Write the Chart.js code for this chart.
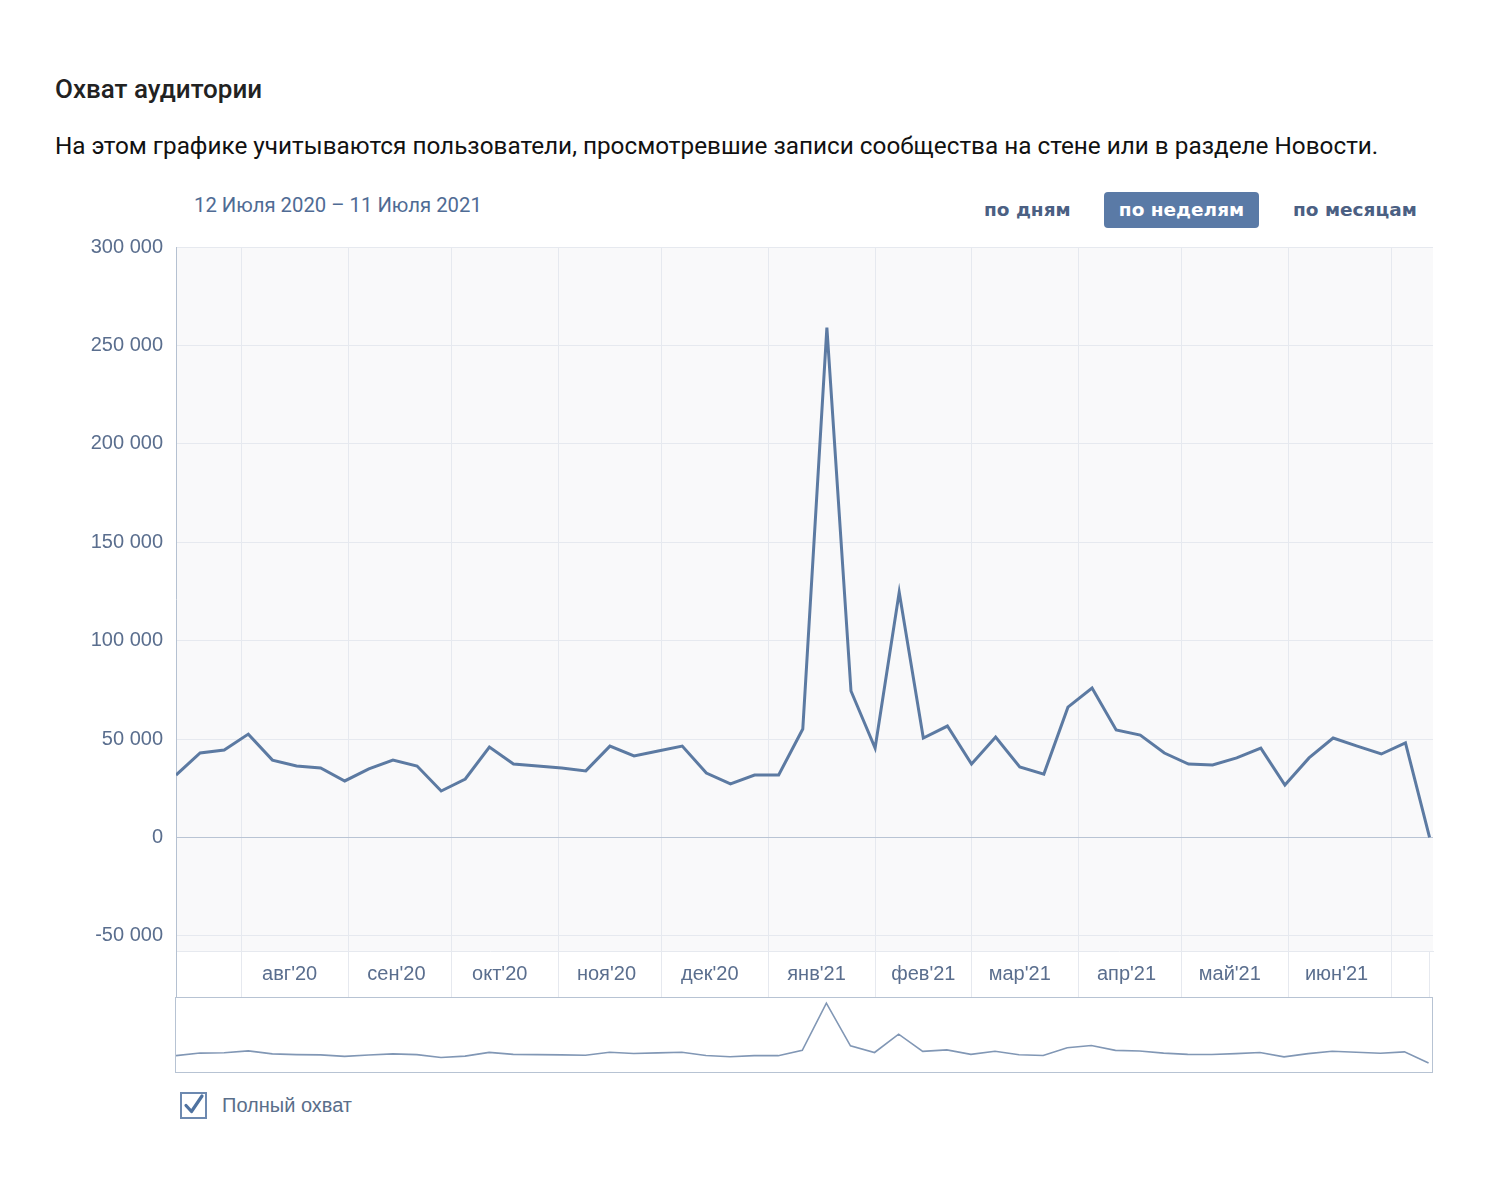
<!DOCTYPE html>
<html><head><meta charset="utf-8">
<script src="https://cdn.jsdelivr.net/npm/chart.js@4"></script>
<style>
body{margin:0;background:#fff;width:1492px;height:1193px;position:relative;overflow:hidden;font-family:Roboto,sans-serif;}
.abs{position:absolute;white-space:nowrap;}
#title{left:55px;top:73px;font-size:26px;font-weight:500;color:#222;line-height:32px;}
#sub{left:55px;top:130px;font-size:24.3px;color:#111;line-height:32px;}
#range{left:194px;top:192px;font-size:20.3px;color:#4f6b94;line-height:26px;}
.btn{font-family:"DejaVu Sans",sans-serif;font-weight:bold;font-size:18.5px;color:#4b6083;line-height:36px;top:192px;}
#b1{left:984px;}
#b2{left:1104px;width:155px;height:36px;background:#5a7aa6;color:#fff;border-radius:4px;text-align:center;}
#b3{left:1293px;}
#mainWrap{left:0;top:222px;width:1492px;height:778px;}
#navWrap{left:175px;top:997px;width:1256px;height:74px;border:1px solid #b7c3d3;background:#fff;}
#chk{left:179px;top:1091px;}
#legTxt{left:222px;top:1092px;font-family:"Liberation Sans",sans-serif;font-size:20px;color:#5a6e8a;line-height:26px;}
</style>
</head>
<body>
<div class="abs" id="title">Охват аудитории</div>
<div class="abs" id="sub">На этом графике учитываются пользователи, просмотревшие записи сообщества на стене или в разделе Новости.</div>
<div class="abs" id="range">12 Июля 2020 – 11 Июля 2021</div>
<div class="abs btn" id="b1">по дням</div>
<div class="abs btn" id="b2">по неделям</div>
<div class="abs btn" id="b3">по месяцам</div>
<div class="abs" id="mainWrap"><canvas id="main" width="1492" height="778"></canvas></div>
<div class="abs" id="navWrap"><canvas id="nav" width="1256" height="74"></canvas></div>
<svg class="abs" id="chk" width="30" height="30" viewBox="0 0 30 30">
  <rect x="2" y="2" width="25" height="25" fill="#fff" stroke="#6d89b0" stroke-width="2"/>
  <path d="M7 14.5 L12.5 20.5 L23 5" fill="none" stroke="#4f72a0" stroke-width="3.2" stroke-linejoin="round" stroke-linecap="round"/>
</svg>
<div class="abs" id="legTxt">Полный охват</div>
<script>
// ---- data ----
const firstWeek = [2020, 6, 13]; // year, month(0-based), day of first weekly point
const reach = [31700, 42900, 44400, 52500, 39300, 36300, 35300, 28700, 34800, 39300,
  36300, 23600, 29700, 45900, 37300, 36300, 35300, 33800, 46400, 41400,
  43900, 46400, 32700, 27200, 31700, 31700, 55100, 259000, 74400, 45400,
  124600, 50500, 56600, 37300, 51000, 35800, 32200, 66200, 75900, 54600,
  52000, 42900, 37300, 36800, 40400, 45400, 26600, 40400, 50500, 46400,
  42400, 48000, 0];
const monthLabels = ["авг'20","сен'20","окт'20","ноя'20","дек'20","янв'21","фев'21","мар'21","апр'21","май'21","июн'21"];
const firstLabelMonth = [2020, 7]; // Aug 2020
const extraBoundaryMonths = 1; // Jul 2021 boundary after last label
const yTickValues = [-50000, 0, 50000, 100000, 150000, 200000, 250000, 300000];
const seriesName = 'Полный охват';

// ---- derived ----
const start = Date.UTC(firstWeek[0], firstWeek[1], firstWeek[2]);
const dayOf = (y, m, d) => (Date.UTC(y, m, d) - start) / 86400000;
const points = reach.map((v, i) => ({x: i * 7, y: v}));
const lastDay = (reach.length - 1) * 7;
const xMax = lastDay + 1;

const boundaries = [];
const labelPos = {};
for (let k = 0; k < monthLabels.length + extraBoundaryMonths; k++) {
  const y = firstLabelMonth[0], m = firstLabelMonth[1] + k;
  boundaries.push(dayOf(y, m, 1));
  if (k < monthLabels.length) labelPos[dayOf(y, m, 15)] = monthLabels[k];
}
const xTickVals = [0, lastDay, ...boundaries, ...Object.keys(labelPos).map(Number)].sort((a, b) => a - b);

const fmt = v => String(v).replace(/\B(?=(\d{3})+(?!\d))/g, ' ');
const GRID = '#e6e9ef';
const AXIS = '#b5c1d1';
const LABEL = '#5a6e8e';
const CLEAR = 'rgba(0,0,0,0)';

const bgPlugin = {
  id: 'plotBg',
  beforeDraw(c) {
    const a = c.chartArea, ctx = c.ctx;
    ctx.save();
    ctx.fillStyle = '#f9f9fa';
    ctx.fillRect(a.left, a.top, a.right - a.left, a.bottom - a.top);
    ctx.restore();
  }
};

new Chart(document.getElementById('main'), {
  type: 'line',
  data: {datasets: [{label: seriesName, data: points, borderColor: '#5c7aa2', borderWidth: 3,
    pointRadius: 0, tension: 0, fill: false}]},
  options: {
    responsive: false, animation: false, devicePixelRatio: 1,
    layout: {padding: {top: 8, right: 59, bottom: 3, left: 0}},
    plugins: {legend: {display: false}, tooltip: {enabled: false}},
    scales: {
      x: {
        type: 'linear', min: 0, max: xMax,
        afterBuildTicks: s => { s.ticks = xTickVals.map(v => ({value: v})); },
        afterFit: s => { s.height = 46; },
        grid: {
          color: ctx => (ctx.tick && boundaries.includes(ctx.tick.value)) ? GRID : CLEAR,
          tickColor: ctx => {
            if (!ctx.tick) return CLEAR;
            if (ctx.tick.value === 0) return AXIS;
            if (ctx.tick.value === lastDay) return GRID;
            return boundaries.includes(ctx.tick.value) ? GRID : CLEAR;
          },
          drawTicks: true, tickLength: 46
        },
        border: {color: GRID},
        ticks: {autoSkip: false, maxRotation: 0, minRotation: 0, padding: -35,
          color: LABEL, font: {family: 'Liberation Sans', size: 20},
          callback: v => labelPos[v] || ''}
      },
      y: {
        min: -57700, max: 300000,
        afterBuildTicks: s => { s.ticks = yTickValues.map(v => ({value: v})); },
        afterFit: s => { s.width = 176; },
        grid: {color: ctx => (ctx.tick && ctx.tick.value === 0) ? '#b9c4d4' : GRID, drawTicks: false},
        border: {color: AXIS},
        ticks: {padding: 13, color: LABEL, font: {family: 'Liberation Sans', size: 20}, callback: v => fmt(v)}
      }
    }
  },
  plugins: [bgPlugin]
});

new Chart(document.getElementById('nav'), {
  type: 'line',
  data: {datasets: [{label: seriesName, data: points, borderColor: '#8197b5', borderWidth: 1.6,
    pointRadius: 0, tension: 0, fill: false}]},
  options: {
    responsive: false, animation: false, devicePixelRatio: 1,
    layout: {padding: 0},
    plugins: {legend: {display: false}, tooltip: {enabled: false}},
    scales: {
      x: {type: 'linear', display: false, min: 0, max: xMax},
      y: {display: false, min: -38900, max: 281000}
    }
  }
});
</script>
</body></html>
